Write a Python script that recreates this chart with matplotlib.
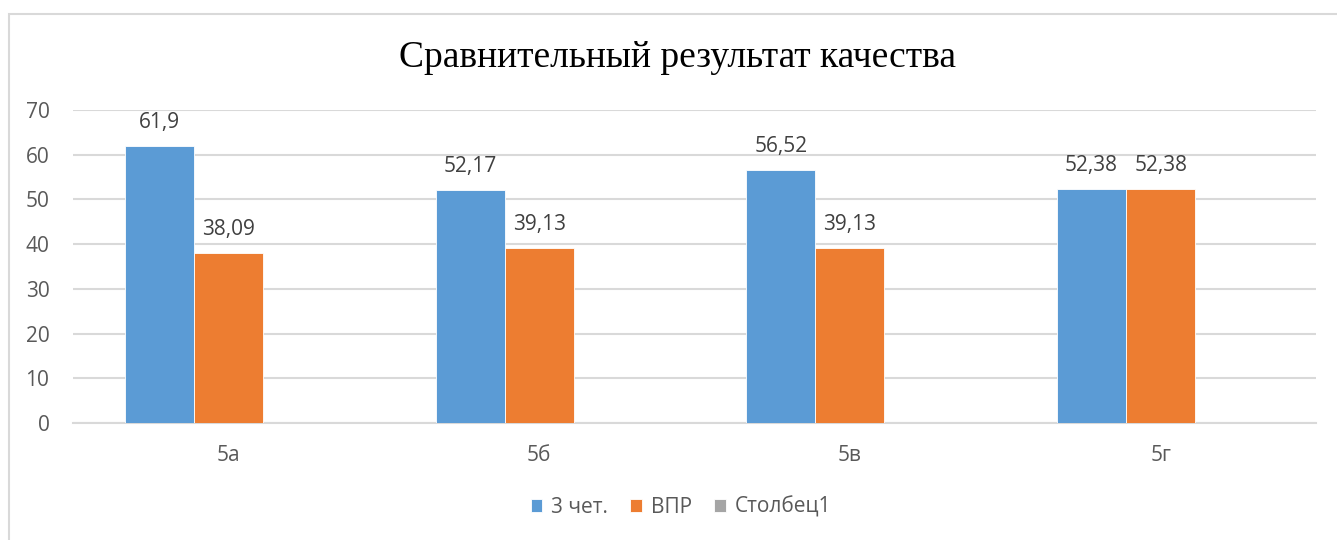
import matplotlib.pyplot as plt
import matplotlib.patches as mpatches
import numpy as np

plt.rcParams['font.family'] = ['Open Sans', 'DejaVu Sans']

categories = ['5а', '5б', '5в', '5г']
series_names = ['3 чет.', 'ВПР', 'Столбец1']
q3 = [61.9, 52.17, 56.52, 52.38]
vpr = [38.09, 39.13, 39.13, 52.38]
col1 = [0, 0, 0, 0]
label_q3 = ['61,9', '52,17', '56,52', '52,38']
label_vpr = ['38,09', '39,13', '39,13', '52,38']
colors = ['#5B9BD5', '#ED7D31', '#A5A5A5']

fig = plt.figure(figsize=(13.37, 5.4), dpi=100)
# outer chart frame
fig.patches.append(mpatches.Rectangle((9 / 1337, -0.1), 1.2, 1 - 14 / 540 + 0.1,
                                      transform=fig.transFigure, fill=False,
                                      edgecolor='#d9d9d9', linewidth=1.5))
ax = fig.add_axes([73 / 1337, 1 - 423 / 540, (1316 - 73) / 1337, (423 - 110) / 540])

x = np.arange(len(categories)) + 0.5
w = 1 / 4.5
bars = []
for k, vals in enumerate([q3, vpr, col1]):
    b = ax.bar(x + (k - 1) * w, vals, width=w, color=colors[k],
               edgecolor='white', linewidth=0.6, label=series_names[k], zorder=3)
    bars.append(b)

for b, labs in zip(bars[:2], [label_q3, label_vpr]):
    for rect, lab in zip(b, labs):
        ax.annotate(lab, (rect.get_x() + rect.get_width() / 2, rect.get_height()),
                    xytext=(0, 17), textcoords='offset points', ha='center', va='center',
                    fontsize=15, color='#404040')

ax.set_xlim(0, 4)
ax.set_ylim(0, 70)
ax.set_yticks(range(0, 71, 10))
ax.set_xticks(x)
ax.set_xticklabels(categories)
ax.grid(axis='y', color='#d9d9d9', linewidth=1.5, zorder=0)
for s in ['top', 'right', 'left']:
    ax.spines[s].set_visible(False)
ax.spines['bottom'].set_color('#d9d9d9')
ax.spines['bottom'].set_linewidth(1.5)
ax.tick_params(axis='both', length=0, labelsize=15, labelcolor='#595959')
ax.tick_params(axis='x', pad=16)
ax.tick_params(axis='y', pad=17)

fig.text(0.507, 1 - 58 / 540, 'Сравнительный результат качества', ha='center', va='center',
         fontsize=27, family=['Liberation Serif', 'DejaVu Serif'], color='black')

fig.legend(handles=bars, labels=series_names, loc='center', bbox_to_anchor=(681 / 1337, 1 - 507 / 540),
           ncol=3, frameon=False, fontsize=15, labelcolor='#595959',
           handlelength=0.55, handleheight=0.55, handletextpad=0.45, columnspacing=1.05)

fig.savefig('out.png', dpi=100)
